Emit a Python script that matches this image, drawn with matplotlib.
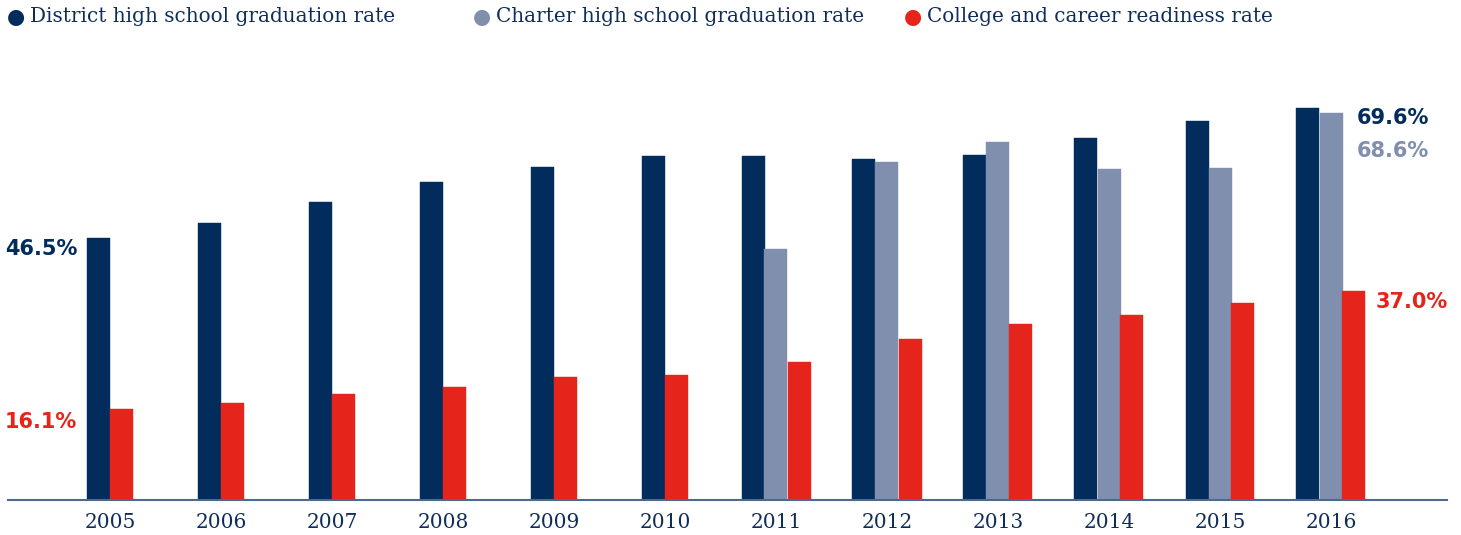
"""Graduation and college/career readiness rates, 2005-2016."""

import matplotlib
matplotlib.use("Agg")
import matplotlib.pyplot as plt  # noqa: E402

years = ["2005", "2006", "2007", "2008", "2009", "2010",
         "2011", "2012", "2013", "2014", "2015", "2016"]
district = [46.5, 49.1, 52.8, 56.4, 59.0, 61.0, 61.0, 60.5, 61.3, 64.2, 67.2, 69.6]
charter = [None, None, None, None, None, None, 44.5, 59.9, 63.5, 58.7, 58.9, 68.6]
readiness = [16.1, 17.2, 18.8, 20.0, 21.8, 22.2, 24.5, 28.5, 31.2, 32.8, 34.9, 37.0]

NAVY = "#022c5c"
GRAY = "#7f8fad"
RED = "#e5251c"
TEXT = "#0f2d5a"
SERIF = ["DejaVu Serif"]
SANS = ["DejaVu Sans"]

W, H = 1461, 535
fig = plt.figure(figsize=(W / 100, H / 100), dpi=100)
fig.patch.set_facecolor("white")

# axes: baseline at y=500px, x from 8 to 1447 px, top at 60 px
ax = fig.add_axes([8 / W, (H - 500) / H, (1447 - 8) / W, 440 / H])
px_per_unit = 5.636
ax.set_ylim(0, 440 / px_per_unit)
ax.set_xlim((8 - 110) / 111, (1447 - 110) / 111)

bw = 23 / 111


def bar(x, v, c):
    ax.bar(x, v, bw, color=c, edgecolor=c, linewidth=0.3)


for i in range(len(years)):
    if charter[i] is None:
        bar(i - bw / 2, district[i], NAVY)
        bar(i + bw / 2, readiness[i], RED)
    else:
        bar(i - bw, district[i], NAVY)
        bar(i, charter[i], GRAY)
        bar(i + bw, readiness[i], RED)

for s in ("top", "right", "left"):
    ax.spines[s].set_visible(False)
ax.spines["bottom"].set_color("#4c6a8e")
ax.spines["bottom"].set_linewidth(1.5)
ax.spines["bottom"].set_zorder(5)
ax.set_yticks([])
ax.set_xticks(range(len(years)))
ax.set_xticklabels(years, family=SERIF, fontsize=14.5, color=TEXT)
ax.tick_params(axis="x", length=0, pad=9)


def fx(px):
    return px / W


def fy(py):
    return 1 - py / H


# value labels
lab = dict(fontsize=15, fontweight="bold", family=SANS, va="center")
fig.text(fx(77), fy(249), f"{district[0]:.1f}%", ha="right", color=NAVY, **lab)
fig.text(fx(77), fy(422), f"{readiness[0]:.1f}%", ha="right", color=RED, **lab)
fig.text(fx(1357), fy(118), f"{district[-1]:.1f}%", ha="left", color=NAVY, **lab)
fig.text(fx(1357), fy(151), f"{charter[-1]:.1f}%", ha="left", color=GRAY, **lab)
fig.text(fx(1376), fy(302), f"{readiness[-1]:.1f}%", ha="left", color=RED, **lab)

# legend
legend_items = [
    (16, NAVY, "District high school graduation rate"),
    (482, GRAY, "Charter high school graduation rate"),
    (913, RED, "College and career readiness rate"),
]
for x0, c, t in legend_items:
    fig.text(fx(x0), fy(17), "\u25cf", ha="center", va="center",
             color=c, fontsize=15, family=SANS)
    fig.text(fx(x0 + 14), fy(17), t, ha="left", va="center",
             color=TEXT, fontsize=14.4, family=SERIF)

fig.savefig("out.png", dpi=100, facecolor="white")
